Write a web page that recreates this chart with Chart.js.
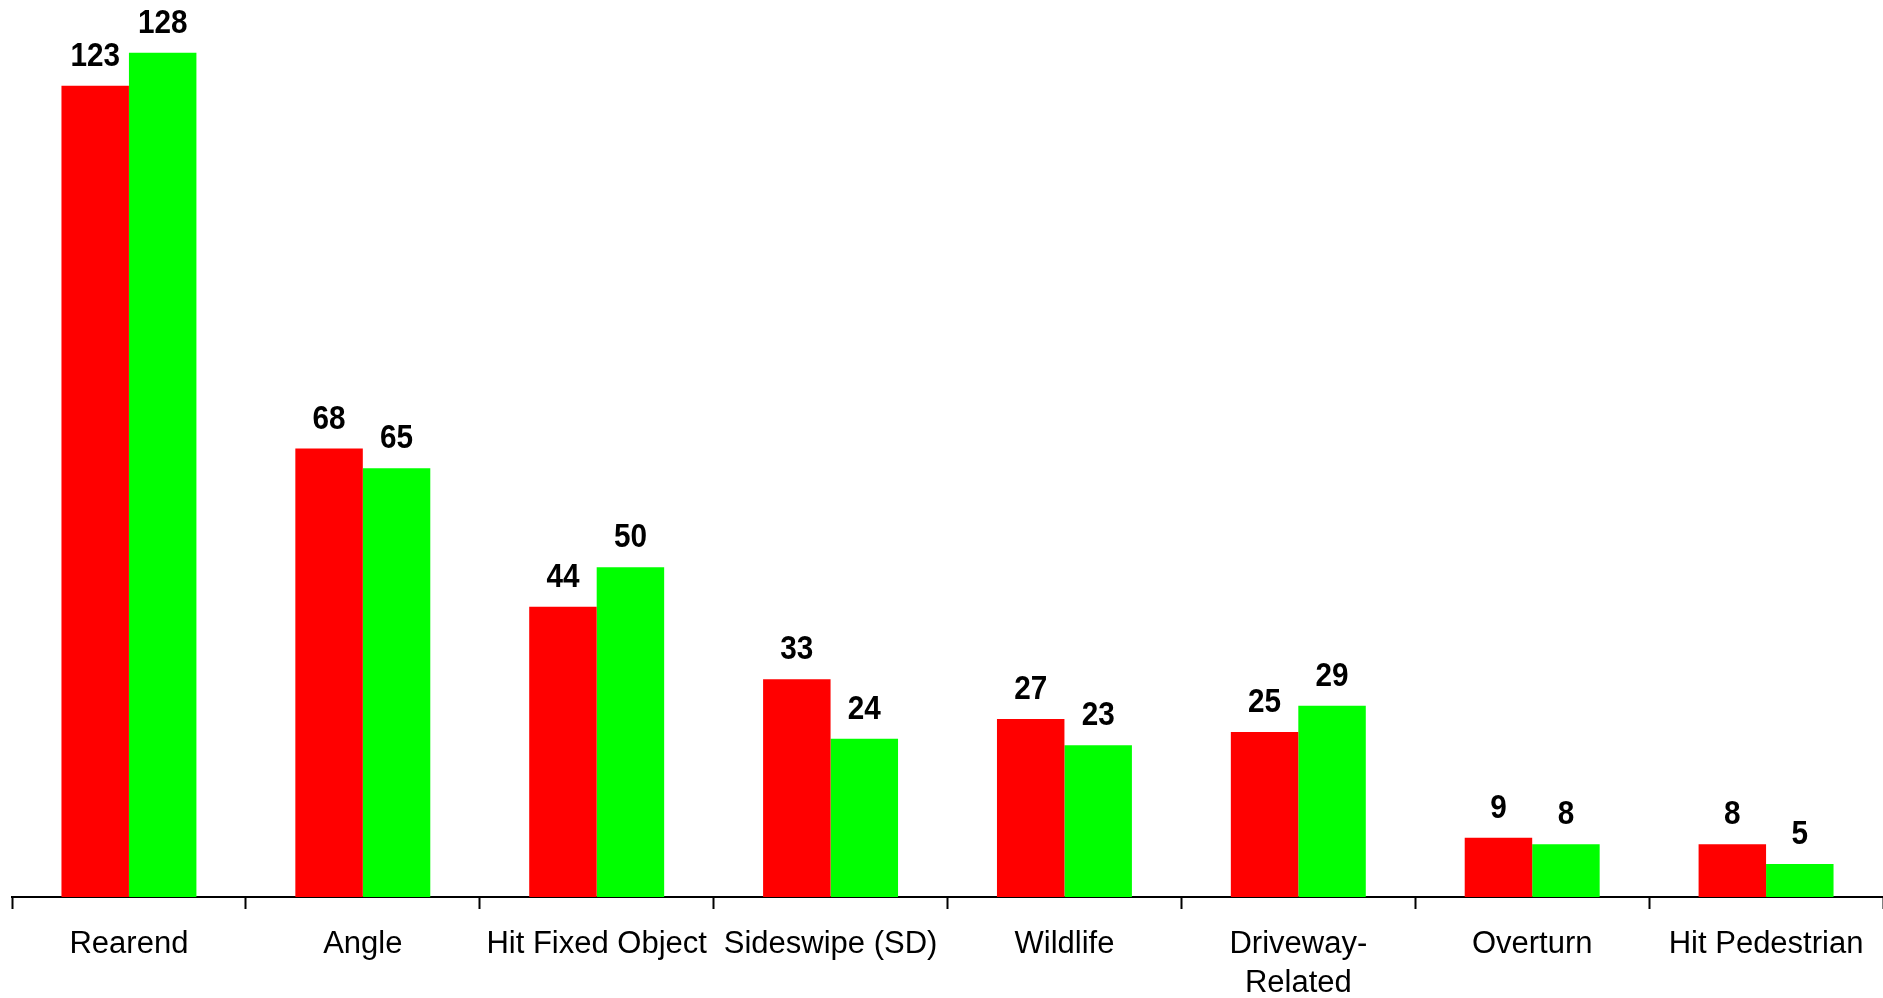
<!DOCTYPE html>
<html>
<head>
<meta charset="utf-8">
<script src="https://cdn.jsdelivr.net/npm/chart.js@4"></script>
<style>
  html, body { margin: 0; padding: 0; background: #fff; }
</style>
</head>
<body>
<canvas id="crashChart" width="1883" height="998"></canvas>
<script>
// crash types along the x axis
const categories = ['Rearend', 'Angle', 'Hit Fixed Object', 'Sideswipe (SD)', 'Wildlife',
    ['Driveway-', 'Related'], 'Overturn', 'Hit Pedestrian'];

// before (red) and after (green) counts
const beforeCounts = [123, 68, 44, 33, 27, 25, 9, 8];
const afterCounts = [128, 65, 50, 24, 23, 29, 8, 5];

const yMax = 136;

// draws the value above each bar (font a bit narrow, like the original)
const valueLabels = {
    id: 'valueLabels',
    afterDatasetsDraw(chart) {
        const ctx = chart.ctx;
        ctx.save();
        ctx.font = 'bold 33px "Liberation Sans", Arial, sans-serif';
        ctx.fillStyle = '#000';
        ctx.textAlign = 'center';
        ctx.textBaseline = 'alphabetic';
        chart.data.datasets.forEach((ds, i) => {
            chart.getDatasetMeta(i).data.forEach((bar, j) => {
                ctx.save();
                ctx.translate(bar.x, bar.y - 20);
                ctx.scale(0.9, 1);
                ctx.fillText(ds.data[j], 0, 0);
                ctx.restore();
            });
        });
        ctx.restore();
    }
};

const ctx = document.getElementById('crashChart').getContext('2d');
const crashChart = new Chart(ctx, {
    type: 'bar',
    data: {
        labels: categories,
        datasets: [
            {
                label: 'Before',
                data: beforeCounts,
                backgroundColor: '#ff0000',
                borderWidth: 0,
                categoryPercentage: 0.577,
                barPercentage: 1.0
            },
            {
                label: 'After',
                data: afterCounts,
                backgroundColor: '#00ff00',
                borderWidth: 0,
                categoryPercentage: 0.577,
                barPercentage: 1.0
            }
        ]
    },
    options: {
        responsive: false,
        devicePixelRatio: 1,
        animation: false,
        layout: {
            padding: { left: 12, right: 0, top: 0, bottom: 0 }
        },
        plugins: {
            legend: { display: false },
            tooltip: { enabled: false }
        },
        scales: {
            x: {
                offset: true,
                grid: {
                    offset: true,
                    drawOnChartArea: false,
                    drawTicks: true,
                    tickLength: 12,
                    tickWidth: 2,
                    tickColor: '#000'
                },
                border: { display: true, color: '#000', width: 2 },
                ticks: {
                    color: '#000',
                    padding: 16,
                    maxRotation: 0,
                    autoSkip: false,
                    font: { family: '"Liberation Sans", Arial, sans-serif', size: 31, lineHeight: 1.26 }
                },
                afterFit(scale) {
                    scale.height = 101;
                }
            },
            y: {
                display: false,
                min: 0,
                max: yMax
            }
        }
    },
    plugins: [valueLabels]
});
</script>
</body>
</html>
